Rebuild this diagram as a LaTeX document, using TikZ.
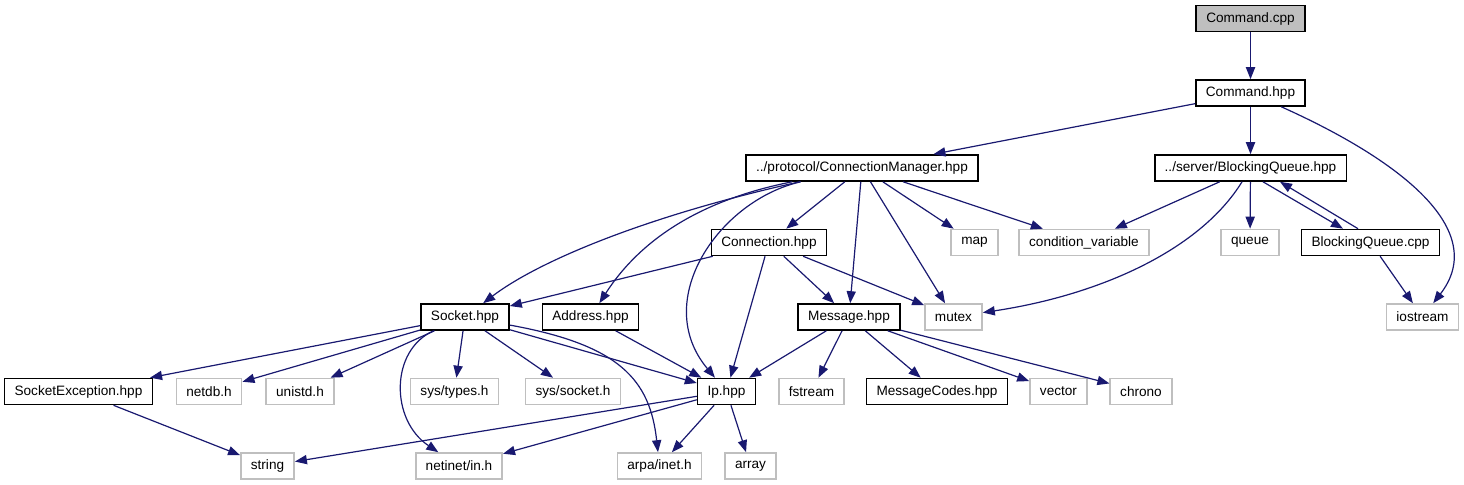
\documentclass[tikz,border=0pt]{standalone}
\usepackage{fontspec}
\setmainfont{Liberation Sans}
\usetikzlibrary{arrows.meta,calc}
\definecolor{edgeblue}{HTML}{191970}
\definecolor{sysgrey}{HTML}{BFBFBF}
\tikzset{
  doc/.style={rectangle, draw=black, line width=0.8pt, fill=white,
              font=\fontsize{6.8}{8}\selectfont, inner xsep=5pt,
              inner ysep=0pt, minimum height=13pt},
  sys/.style={doc, draw=sysgrey},
  src/.style={doc, fill=sysgrey},
  arrow/.style={-{Triangle[length=6pt,width=4.6pt]}, edgeblue,
                line width=0.6pt}
}

\begin{document}
\begin{tikzpicture}[x=0.5pt, y=-0.5pt]
  \useasboundingbox (0,0) rectangle (1464,485);
  % top
  \node[src] (cmdcpp) at (1250.5,18.5) {Command.cpp};
  \node[doc] (cmdhpp) at (1250.5,93) {Command.hpp};
  \node[doc] (connmgr) at (862,168) {../protocol/ConnectionManager.hpp};
  \node[doc] (bqhpp) at (1250.5,168) {../server/BlockingQueue.hpp};
  % middle
  \node[doc] (conn) at (769,242.5) {Connection.hpp};
  \node[sys] (map) at (974.5,242.5) {map};
  \node[sys] (condvar) at (1084,242.5) {condition\_variable};
  \node[sys] (queue) at (1250,242.5) {queue};
  \node[doc] (bqcpp) at (1370.5,242.5) {BlockingQueue.cpp};
  \node[doc] (socket) at (465,317) {Socket.hpp};
  \node[doc] (address) at (590.5,317) {Address.hpp};
  \node[doc] (message) at (849,317) {Message.hpp};
  \node[sys] (mutex) at (953.5,317) {mutex};
  \node[sys] (iostream) at (1422.5,317) {iostream};
  % bottom
  \node[doc] (sockexc) at (78.5,391.5) {SocketException.hpp};
  \node[sys] (netdb) at (209,391.5) {netdb.h};
  \node[sys] (unistd) at (300,391.5) {unistd.h};
  \node[sys] (systypes) at (454.5,391.5) {sys/types.h};
  \node[sys] (syssocket) at (573,391.5) {sys/socket.h};
  \node[doc] (ip) at (726.5,391.5) {Ip.hpp};
  \node[sys] (fstream) at (811.5,391.5) {fstream};
  \node[doc] (msgcodes) at (937,391.5) {MessageCodes.hpp};
  \node[sys] (vector) at (1058.5,391.5) {vector};
  \node[sys] (chrono) at (1141,391.5) {chrono};
  \node[sys] (string) at (267.5,466) {string};
  \node[sys] (netinet) at (459,466) {netinet/in.h};
  \node[sys] (arpa) at (659.5,466) {arpa/inet.h};
  \node[sys] (array) at (750.5,466) {array};

  \draw[arrow] (cmdcpp) -- (cmdhpp); \draw[arrow] (cmdhpp) -- (connmgr);
  \draw[arrow] (cmdhpp) -- (bqhpp);
  \draw[arrow] (cmdhpp) .. controls (1400,160) and (1490,230) .. (iostream);
  \draw[arrow] (connmgr) .. controls (650,215) and (540,260) .. (socket);
  \draw[arrow] (connmgr) .. controls (700,200) and (640,240) .. (address);
  \draw[arrow] (connmgr) .. controls (720,200) and (650,300) .. (ip);
  \draw[arrow] (connmgr) -- (conn); \draw[arrow] (connmgr) -- (message);
  \draw[arrow] (connmgr) -- (mutex); \draw[arrow] (connmgr) -- (map);
  \draw[arrow] (connmgr) -- (condvar);
  \draw[arrow] (bqhpp) -- (condvar); \draw[arrow] (bqhpp) -- (queue);
  \draw[arrow] (bqhpp) .. controls (1200,250) and (1100,295) .. (mutex);
  \draw[arrow] ($(bqhpp.south)+(12.5,0)$) -- ($(bqcpp.north)+(-27.5,0)$);
  \draw[arrow] ($(bqcpp.north)+(-12.5,0)$) -- ($(bqhpp.south)+(29.5,0)$);
  \draw[arrow] (bqcpp) -- (iostream);
  \draw[arrow] (conn) -- (socket); \draw[arrow] (conn) -- (ip);
  \draw[arrow] (conn) -- (message); \draw[arrow] (conn) -- (mutex);
  \draw[arrow] (socket) -- (sockexc); \draw[arrow] (socket) -- (netdb);
  \draw[arrow] (socket) -- (unistd); \draw[arrow] (socket) -- (systypes);
  \draw[arrow] (socket) -- (syssocket); \draw[arrow] (socket) -- (ip);
  \draw[arrow] (socket) .. controls (390,350) and (390,420) .. (netinet);
  \draw[arrow] (socket) .. controls (620,345) and (650,380) .. (arpa);
  \draw[arrow] (address) -- (ip);
  \draw[arrow] (message) -- (ip); \draw[arrow] (message) -- (fstream);
  \draw[arrow] (message) -- (msgcodes); \draw[arrow] (message) -- (vector);
  \draw[arrow] (message) -- (chrono);
  \draw[arrow] (sockexc) -- (string);
  \draw[arrow] (ip) -- (string); \draw[arrow] (ip) -- (netinet);
  \draw[arrow] (ip) -- (arpa); \draw[arrow] (ip) -- (array);
\end{tikzpicture}
\end{document}
